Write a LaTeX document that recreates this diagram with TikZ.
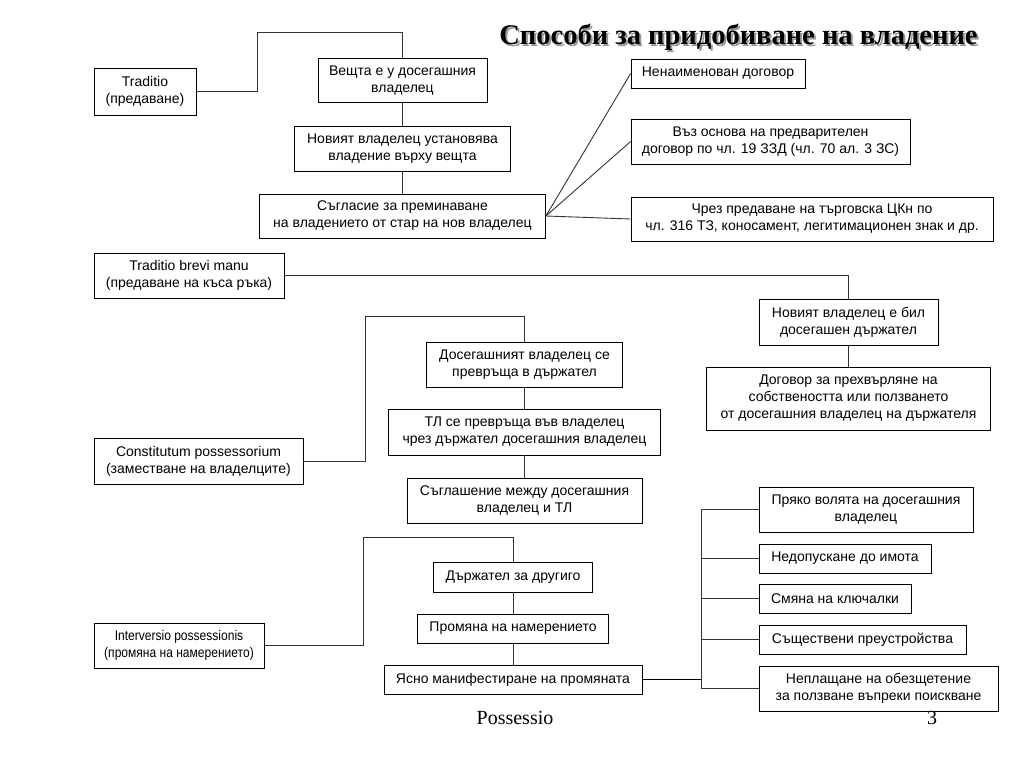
\documentclass[tikz,border=0pt]{standalone}
\usepackage{fontspec}
\setmainfont{Liberation Serif}
\newfontfamily\boxfont{Liberation Sans}
\newfontfamily\narrowfont[FakeStretch=0.86]{Liberation Sans}
\usepackage{tikz}

\begin{document}
\begin{tikzpicture}[x=1pt,y=-1pt,
  box/.style={draw,line width=0.8pt,fill=white,inner sep=0pt,align=center,
    font=\boxfont\fontsize{14pt}{17pt}\selectfont},
  link/.style={draw=black!80,line width=0.9pt},
  heading/.style={anchor=base,font=\bfseries\fontsize{28.5pt}{30pt}\selectfont}]
\useasboundingbox (0,0) rectangle (1024,768);
\node[heading,text=black!40] (titleshadow) at (740.5,47) {Способи за придобиване на владение};
\node[heading] (title) at (738.5,45) {Способи за придобиване на владение};

\node[box,minimum width=102pt,minimum height=47pt] (trad) at (145,91.5) {Traditio\\(предаване)};
\node[box,minimum width=169pt,minimum height=44pt] (vesht) at (402.5,80.5) {Вещта е у досегашния\\владелец};
\node[box,minimum width=216pt,minimum height=45pt] (novvl) at (402.5,148.5) {Новият владелец установява\\владение върху вещта};
\node[box,minimum width=286pt,minimum height=44pt] (saglas) at (402.5,216) {Съгласие за преминаване\\на владението от стар на нов владелец};
\node[box,minimum width=174pt,minimum height=29pt] (nenaim) at (718,73.5) {Ненаименован договор};
\node[box,minimum width=279pt,minimum height=45pt] (vazosn) at (770.5,141.5) {Въз основа на предварителен\\договор по чл. 19 ЗЗД (чл. 70 ал. 3 ЗС)};
\node[box,minimum width=362pt,minimum height=44pt] (chrez) at (812,219) {Чрез предаване на търговска ЦКн по\\чл. 316 ТЗ, коносамент, легитимационен знак и др.};

\node[box,minimum width=190pt,minimum height=45pt] (brevi) at (189,275.5) {Traditio brevi manu\\(предаване на къса ръка)};
\node[box,minimum width=179pt,minimum height=46pt] (novdarj) at (848.5,322) {Новият владелец е бил\\досегашен държател};
\node[box,minimum width=284pt,minimum height=63pt] (dogovor) at (848.5,398.5) {Договор за прехвърляне на\\собствеността или ползването\\от досегашния владелец на държателя};

\node[box,minimum width=209pt,minimum height=46pt] (constit) at (198.5,461) {Constitutum possessorium\\(заместване на владелците)};
\node[box,minimum width=196pt,minimum height=45pt] (dosvl) at (524.5,364.5) {Досегашният владелец се\\превръща в държател};
\node[box,minimum width=272pt,minimum height=46pt] (tlvl) at (524.5,432) {ТЛ се превръща във владелец\\чрез държател досегашния владелец};
\node[box,minimum width=235pt,minimum height=45pt] (saglash) at (524.5,500.5) {Съглашение между досегашния\\владелец и ТЛ};

\node[box,minimum width=170pt,minimum height=45pt,font=\narrowfont\fontsize{14pt}{17pt}\selectfont] (interv) at (179,645.5) {Interversio possessionis\\(промяна на намерението)};
\node[box,minimum width=159pt,minimum height=30pt] (darjdr) at (513,577) {Държател за другиго};
\node[box,minimum width=191pt,minimum height=29pt] (promyana) at (513,628.5) {Промяна на намерението};
\node[box,minimum width=258pt,minimum height=29pt] (yasno) at (513,679.5) {Ясно манифестиране на промяната};

\node[box,minimum width=214pt,minimum height=45pt] (pryako) at (866,509.5) {Пряко волята на досегашния\\владелец};
\node[box,minimum width=172pt,minimum height=29pt] (nedop) at (845,558.5) {Недопускане до имота};
\node[box,minimum width=152pt,minimum height=29pt] (smyana) at (835,598.5) {Смяна на ключалки};
\node[box,minimum width=207pt,minimum height=29pt] (sasht) at (862.5,639.5) {Съществени преустройства};
\node[box,minimum width=239pt,minimum height=45pt] (neplasht) at (878.5,688.5) {Неплащане на обезщетение\\за ползване въпреки поискване};

\node[anchor=base,font=\fontsize{20pt}{22pt}\selectfont] (footer) at (515,724) {Possessio};
\node[anchor=base,font=\fontsize{20pt}{22pt}\selectfont] (pagenum) at (932,724) {3};

\coordinate (tradbend) at (257,32);
\draw[link] (vesht.north) |- (tradbend) |- (trad.east);
\draw[link] (vesht) -- (novvl) -- (saglas);
\foreach \n in {nenaim,vazosn,chrez}
  \draw[link] (saglas.east) -- (\n.west);

\draw[link] (brevi.east) -| (novdarj.north);
\draw[link] (novdarj) -- (dogovor);

\coordinate (constbend) at (365,316);
\draw[link] (constit.east) -| (constbend) -| (dosvl.north);
\draw[link] (dosvl) -- (tlvl) -- (saglash);

\coordinate (intbend) at (363,537);
\draw[link] (interv.east) -| (intbend) -| (darjdr.north);
\draw[link] (darjdr) -- (promyana) -- (yasno);

\coordinate (trunk) at (701,600);
\draw[link,line width=1.8pt,draw=black] (yasno.east) -- (yasno.east -| trunk);
\draw[link] (pryako.west) -- (pryako.west -| trunk) -- (neplasht.west -| trunk) -- (neplasht.west);
\foreach \n in {nedop,smyana,sasht}
  \draw[link] (\n.west) -- (\n.west -| trunk);
\end{tikzpicture}
\end{document}
